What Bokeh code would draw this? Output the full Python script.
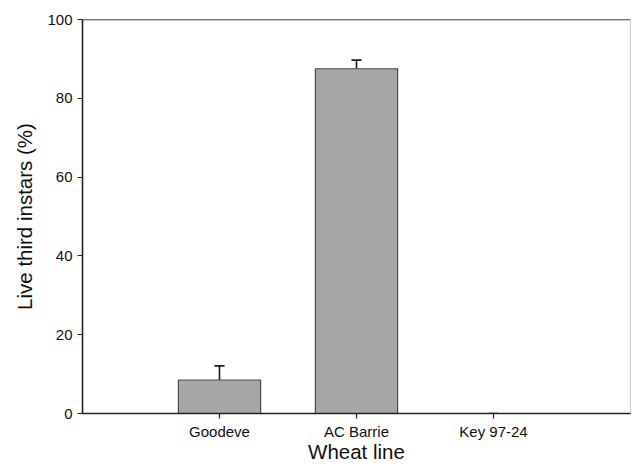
from bokeh.plotting import figure
from bokeh.models import ColumnDataSource, Whisker, Span, FactorRange, FixedTicker, TeeHead
from bokeh.embed import file_html
from bokeh.resources import INLINE

lines = ["Goodeve", "AC Barrie", "Key 97-24"]
live = [8.5, 87.5, 0.0]
se = [3.6, 2.2, 0.0]
y_ticks = [0, 20, 40, 60, 80, 100]

src = ColumnDataSource(dict(
    x=lines, top=live,
    upper=[v + e for v, e in zip(live, se)],
    lower=live,
))

p = figure(width=631, height=465, output_backend="svg", toolbar_location=None,
           x_range=FactorRange(factors=lines, range_padding=1/3),
           y_range=(0, 100),
           min_border_left=82, min_border_top=19, min_border_bottom=50,
           min_border_right=1)

p.vbar(x="x", top="top", width=0.6, source=src, fill_color="#a6a6a6",
       line_color="#4a4a4a", line_width=1.2)

w = Whisker(base="x", upper="upper", lower="lower", source=src,
            line_color="#1a1a1a", line_width=1.6,
            upper_head=TeeHead(size=10, line_color="#1a1a1a", line_width=1.6),
            lower_head=None)
p.add_layout(w)

p.add_layout(Span(location=100, dimension="width", line_color="#222222", line_width=1.6))

p.grid.visible = False
p.outline_line_color = "#d0d0d0"
p.background_fill_color = "white"
p.border_fill_color = "white"

font = "Liberation Sans"
p.yaxis.ticker = FixedTicker(ticks=y_ticks)
p.yaxis.minor_tick_line_color = None
p.yaxis.major_tick_out = 5
p.yaxis.major_tick_in = 0
p.yaxis.axis_label = "Live third instars (%)"
p.yaxis.major_label_text_font = font
p.yaxis.major_label_text_font_size = "15px"
p.yaxis.major_label_text_color = "#111111"
p.yaxis.major_label_standoff = 5
p.yaxis.axis_label_text_font = font
p.yaxis.axis_label_text_font_style = "normal"
p.yaxis.axis_label_text_font_size = "20.5px"
p.yaxis.axis_label_text_color = "#111111"
p.yaxis.axis_label_standoff = 8

p.xaxis.major_tick_out = 5
p.xaxis.major_tick_in = 0
p.xaxis.axis_label = "Wheat line"
p.xaxis.major_label_text_font = font
p.xaxis.major_label_text_font_size = "15px"
p.xaxis.major_label_text_color = "#111111"
p.xaxis.axis_label_text_font = font
p.xaxis.axis_label_text_font_style = "normal"
p.xaxis.axis_label_text_font_size = "20.5px"
p.xaxis.axis_label_text_color = "#111111"
p.xaxis.major_label_standoff = 4
p.xaxis.axis_label_standoff = -3

for ax in (p.xaxis, p.yaxis):
    ax.axis_line_color = "#222222"
    ax.axis_line_width = 1.6
    ax.major_tick_line_color = "#222222"
    ax.major_tick_line_width = 1.2

open("out.html", "w").write(file_html(p, INLINE))
